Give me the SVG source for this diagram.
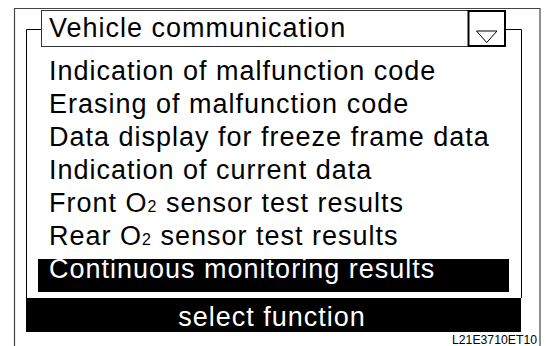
<svg xmlns="http://www.w3.org/2000/svg" width="546" height="346" viewBox="0 0 546 346">
<style>
.t{font-family:"Liberation Sans",Arial,Helvetica,sans-serif;font-size:27px;letter-spacing:1px;fill:#000}
.w{fill:#fff}
.frame{fill:none;stroke:#444;stroke-width:1.2}
.line{fill:none;stroke:#000;stroke-width:1}
</style>
<rect width="546" height="346" fill="#fff"/>
<g id="frame">
<path class="frame" d="M14.5,346 V8.5 H540 V346"/>
<path class="line" d="M26.5,298 V29.5 H41.5 M505.5,29.5 H521.5 V298"/>
</g>
<g id="title">
<rect x="41.5" y="10.5" width="464" height="36" fill="#fff" stroke="#333" stroke-width="1"/>
<text class="t" x="49" y="37">Vehicle communication</text>
<rect x="468.5" y="11" width="36.5" height="35" fill="none" stroke="#000" stroke-width="2"/>
<polygon points="476.5,31 497,31 486.7,42.5" fill="none" stroke="#000" stroke-width="1"/>
</g>
<g id="menu">
<text class="t" x="49" y="80">Indication of malfunction code</text>
<text class="t" x="49" y="113">Erasing of malfunction code</text>
<text class="t" x="49" y="146">Data display for freeze frame data</text>
<text class="t" x="49" y="179">Indication of current data</text>
<text class="t" x="49" y="212">Front O<tspan font-size="16">2</tspan> sensor test results</text>
<text class="t" x="49" y="245">Rear O<tspan font-size="16">2</tspan> sensor test results</text>
<rect x="38" y="259" width="471" height="33" fill="#000"/>
<text class="t w" x="49" y="278">Continuous monitoring results</text>
</g>
<g id="status">
<rect x="26" y="298" width="495" height="34" fill="#000"/>
<text class="t w" x="272" y="326" text-anchor="middle">select function</text>
</g>
<text x="452" y="344" textLength="85" lengthAdjust="spacingAndGlyphs" font-family="Liberation Sans,Arial,sans-serif" font-size="13.5" fill="#000">L21E3710ET10</text>
</svg>
